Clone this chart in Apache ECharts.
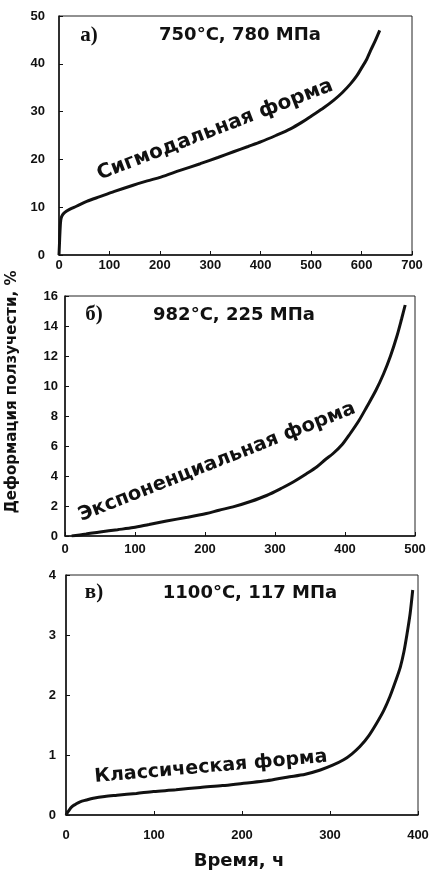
<!DOCTYPE html>
<html>
<head>
<meta charset="utf-8">
<script src="https://cdn.jsdelivr.net/npm/echarts@6/dist/echarts.min.js"></script>
<style>
    html, body {margin: 0; padding: 0; background: #fff;}
    #chart {width: 433px; height: 873px;}
</style>
</head>
<body>
<div id="chart"></div>
<script>
// panel a) 750°C, 780 MPa - sigmoidal
let timeA = [0, 1, 2, 3.5, 6, 11.5, 20, 34.5, 55, 81, 110, 147, 175, 202, 240, 280, 315, 346, 375, 401, 430, 459, 482, 502, 525, 545, 562, 578, 590, 601, 610, 618, 627, 636];
let strainA = [0, 2.5, 5, 7.3, 8.2, 8.9, 9.5, 10.2, 11.2, 12.2, 13.3, 14.6, 15.5, 16.3, 17.7, 19.1, 20.4, 21.6, 22.7, 23.7, 25.0, 26.4, 27.8, 29.2, 30.8, 32.4, 34.0, 35.8, 37.4, 39.3, 40.9, 42.8, 44.8, 47.0];
// panel б) 982°C, 225 MPa - exponential
let timeB = [9.5, 30, 50, 75, 97.6, 120, 145, 175, 202, 220, 240, 265, 288, 310, 326, 345, 359.5, 372, 383, 396, 407, 420, 431, 444, 455, 465, 474, 481, 486];
let strainB = [0, 0.13, 0.27, 0.42, 0.56, 0.77, 1.0, 1.25, 1.5, 1.72, 1.94, 2.3, 2.7, 3.2, 3.6, 4.15, 4.6, 5.1, 5.5, 6.1, 6.8, 7.7, 8.6, 9.7, 10.8, 12.0, 13.3, 14.5, 15.4];
// panel в) 1100°C, 117 MPa - classic
let timeC = [0, 3, 6.8, 11, 16, 23, 31, 44, 58, 80, 99.5, 125, 152.6, 178, 202, 228, 251, 272, 289, 303, 315.5, 325, 334, 344, 353, 361, 368, 375, 380, 384, 387, 391, 394];
let strainC = [0, 0.07, 0.14, 0.18, 0.22, 0.25, 0.28, 0.31, 0.33, 0.36, 0.39, 0.42, 0.46, 0.49, 0.53, 0.57, 0.63, 0.68, 0.75, 0.83, 0.92, 1.02, 1.14, 1.32, 1.53, 1.74, 1.97, 2.25, 2.47, 2.72, 2.97, 3.35, 3.75];

let panelTitles = ['750°C, 780 МПа', '982°C, 225 МПа', '1100°C, 117 МПа'];
let panelLetters = ['а)', 'б)', 'в)'];
let curveNames = ['Сигмодальная форма', 'Экспоненциальная форма', 'Классическая форма'];
let xMax = [700, 500, 400];
let yMax = [50, 16, 4];
let yStep = [10, 2, 1];

function pairs(xs, ys) {
    let out = [];
    for (let i in xs) {
        out.push([xs[i], ys[i]]);
    }
    return out;
}

let sansBold = '"DejaVu Sans", sans-serif';
let tickFont = '"Liberation Sans", Arial, sans-serif';
let grids = [
    {left: 59, top: 16, width: 353, height: 239, yMargin: 14, xMargin: 4},
    {left: 65, top: 296, width: 350, height: 240, yMargin: 7, xMargin: 7},
    {left: 66, top: 575, width: 352, height: 240, yMargin: 10, xMargin: 14}
];

let option = {
    animation: false,
    backgroundColor: '#fff',
    grid: [],
    xAxis: [],
    yAxis: [],
    series: [],
    graphic: []
};

let allData = [pairs(timeA, strainA), pairs(timeB, strainB), pairs(timeC, strainC)];

for (let i = 0; i < 3; i++) {
    let g = grids[i];
    option.grid.push({
        left: g.left, top: g.top, width: g.width, height: g.height,
        show: true, borderColor: '#222', borderWidth: 1
    });
    option.xAxis.push({
        type: 'value', gridIndex: i, min: 0, max: xMax[i], interval: 100,
        axisLine: {lineStyle: {color: '#111', width: 1.5}},
        axisTick: {inside: true, length: 4, lineStyle: {color: '#111'}},
        axisLabel: {color: '#111', fontFamily: tickFont, fontWeight: 'bold', fontSize: 13, margin: g.xMargin},
        splitLine: {show: false}
    });
    option.yAxis.push({
        type: 'value', gridIndex: i, min: 0, max: yMax[i], interval: yStep[i],
        axisLine: {show: true, lineStyle: {color: '#111', width: 1.5}},
        axisTick: {show: true, inside: true, length: 4, lineStyle: {color: '#111'}},
        axisLabel: {color: '#111', fontFamily: tickFont, fontWeight: 'bold', fontSize: 13, margin: g.yMargin},
        splitLine: {show: false}
    });
    option.series.push({
        type: 'line', xAxisIndex: i, yAxisIndex: i,
        data: allData[i], smooth: 0.3, showSymbol: false,
        lineStyle: {color: '#111', width: 3}
    });
}

let letterPos = [[89, 36], [94, 315], [94, 593]];
let titlePos = [[240, 35], [234, 315], [250, 593]];
// x, y, angle in degrees, font size
let notePos = [[215, 130, 21, 20], [217, 462, 21.5, 19.5], [211, 767, 5, 19]];

for (let i = 0; i < 3; i++) {
    option.graphic.push({
        type: 'text', x: letterPos[i][0], y: letterPos[i][1],
        style: {text: panelLetters[i], fill: '#111', font: 'bold 21px "Liberation Serif", serif', align: 'center', verticalAlign: 'middle'}
    });
    option.graphic.push({
        type: 'text', x: titlePos[i][0], y: titlePos[i][1],
        style: {text: panelTitles[i], fill: '#111', font: 'bold 18px ' + sansBold, align: 'center', verticalAlign: 'middle'}
    });
    option.graphic.push({
        type: 'text', x: notePos[i][0], y: notePos[i][1],
        rotation: notePos[i][2] * Math.PI / 180,
        style: {text: curveNames[i], fill: '#111', font: 'bold ' + notePos[i][3] + 'px ' + sansBold, align: 'center', verticalAlign: 'middle'}
    });
}

// shared axis titles
option.graphic.push({
    type: 'text', x: 12, y: 392, rotation: Math.PI / 2,
    style: {text: 'Деформация ползучести, %', fill: '#111', font: 'bold 15px ' + sansBold, align: 'center', verticalAlign: 'middle'}
});
option.graphic.push({
    type: 'text', x: 239, y: 861,
    style: {text: 'Время, ч', fill: '#111', font: 'bold 18px ' + sansBold, align: 'center', verticalAlign: 'middle'}
});

let myChart = echarts.init(document.getElementById('chart'));
myChart.setOption(option);
</script>
</body>
</html>
